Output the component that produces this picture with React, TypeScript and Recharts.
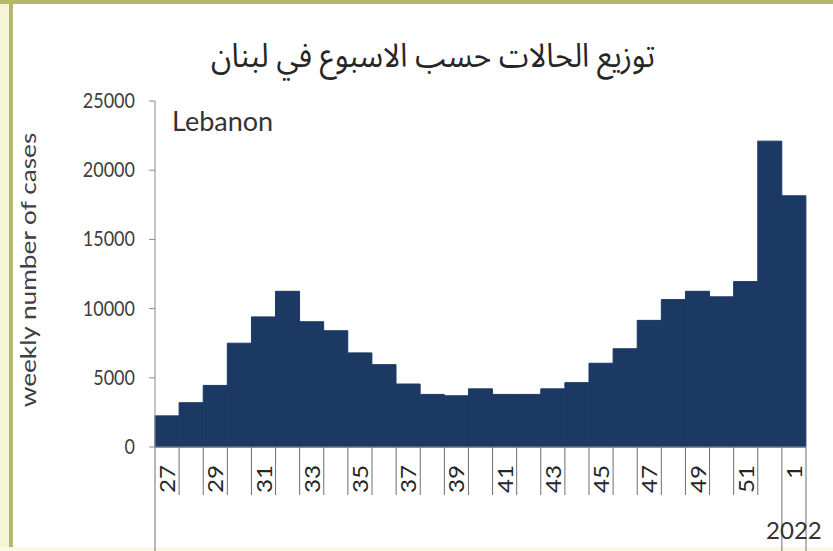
import React from 'react';
import { BarChart, Bar, XAxis, YAxis } from 'recharts';

const weeks: number[] = [27, 28, 29, 30, 31, 32, 33, 34, 35, 36, 37, 38, 39, 40, 41, 42, 43, 44, 45, 46, 47, 48, 49, 50, 51, 52, 1];
const cases: number[] = [2250, 3200, 4450, 7500, 9400, 11250, 9050, 8400, 6800, 5950, 4550, 3800, 3700, 4200, 3800, 3800, 4200, 4650, 6050, 7100, 9150, 10650, 11250, 10850, 11950, 22100, 18150];
const yTicks: number[] = [0, 5000, 10000, 15000, 20000, 25000];
const labelledWeeks: number[] = [27, 29, 31, 33, 35, 37, 39, 41, 43, 45, 47, 49, 51, 1];

const TITLE = 'توزيع الحالات حسب الاسبوع في لبنان';
const COUNTRY = 'Lebanon';
const Y_LABEL = 'weekly number of cases';
const YEAR_LABEL = '2022';

const data = weeks.map((w, i) => ({ week: String(w), cases: cases[i] }));

const W = 833;
const H = 551;
const FONT = 'Lato, "Noto Sans", sans-serif';
const BAR_COLOR = '#1b3963';

const XTick = (props: any) => {
  const { x, y, payload, index } = props;
  const half = payload && typeof payload.offset === 'number' && payload.offset > 0 ? payload.offset : 12;
  const week = Number(payload.value);
  const left = x - half;
  const longLeft = index === 0 || week === 1;
  const isLast = index === weeks.length - 1;
  return (
    <g>
      <line x1={left} x2={left} y1={y} y2={longLeft ? H : y + 48} stroke="#6e6e6e" strokeWidth={1} />
      {isLast && <line x1={x + half} x2={x + half} y1={y} y2={H} stroke="#6e6e6e" strokeWidth={1} />}
      {labelledWeeks.includes(week) && (
        <text
          transform={`translate(${x + 8},${y + 18}) rotate(-90) scale(1.1,1)`}
          textAnchor="end"
          fontFamily={FONT}
          fontSize={22}
          fill="#262626"
        >
          {payload.value}
        </text>
      )}
      {isLast && (
        <text x={x} y={y + 92} textAnchor="middle" fontFamily={FONT} fontSize={24} fill="#333">
          {YEAR_LABEL}
        </text>
      )}
    </g>
  );
};

const YTick = (props: any) => {
  const { x, y, payload } = props;
  return (
    <text
      transform={`translate(${x},${y + 7}) scale(1,1.2)`}
      textAnchor="end"
      fontFamily={FONT}
      fontSize={18}
      fill="#404040"
    >
      {payload.value}
    </text>
  );
};

export default function App() {
  return (
    <div style={{ position: 'absolute', left: 0, top: 0, width: W, height: H, background: '#ffffff', overflow: 'hidden' }}>
      <div style={{ position: 'absolute', left: 0, top: 0, width: 9, height: H, background: '#f3f5d6' }} />
      <div style={{ position: 'absolute', left: 9, top: 0, width: 4, height: H, background: '#b4b86b' }} />
      <div style={{ position: 'absolute', left: 0, top: 0, width: W, height: 4, background: '#b4b86b' }} />
      <div style={{ position: 'absolute', left: 0, top: H - 4, width: W, height: 4, background: '#fbf9e3' }} />
      <div
        style={{
          position: 'absolute',
          left: 13,
          width: 840,
          top: 22,
          textAlign: 'center',
          fontFamily: '"Noto Sans Arabic", "DejaVu Sans", sans-serif',
          fontSize: 30,
          color: '#262626',
          direction: 'rtl',
          transform: 'scaleY(1.1)',
          transformOrigin: 'center top',
        }}
      >
        {TITLE}
      </div>
      <div style={{ position: 'absolute', left: 172, top: 104, fontFamily: FONT, fontSize: 27, color: '#333' }}>{COUNTRY}</div>
      <div style={{ position: 'absolute', left: 0, top: 0 }}>
        <BarChart width={W} height={H} data={data} margin={{ top: 101, right: 27, left: 0, bottom: 0 }} barCategoryGap={0}>
          <XAxis
            dataKey="week"
            interval={0}
            height={104}
            tickSize={0}
            tickMargin={0}
            tickLine={false}
            axisLine={{ stroke: '#8a8a8a' }}
            tick={<XTick />}
          />
          <YAxis
            width={155}
            domain={[0, 25000]}
            ticks={yTicks}
            tickSize={6}
            tickMargin={14}
            tickLine={{ stroke: '#8a8a8a' }}
            axisLine={{ stroke: '#8a8a8a' }}
            tick={<YTick />}
            label={{
              content: () => (
                <text
                  transform="translate(36,270) rotate(-90) scale(1.25,1)"
                  textAnchor="middle"
                  fontFamily={FONT}
                  fontSize={21}
                  fill="#404040"
                >
                  {Y_LABEL}
                </text>
              ),
            }}
          />
          <Bar dataKey="cases" fill={BAR_COLOR} stroke={BAR_COLOR} strokeWidth={1} isAnimationActive={false} />
        </BarChart>
      </div>
    </div>
  );
}
